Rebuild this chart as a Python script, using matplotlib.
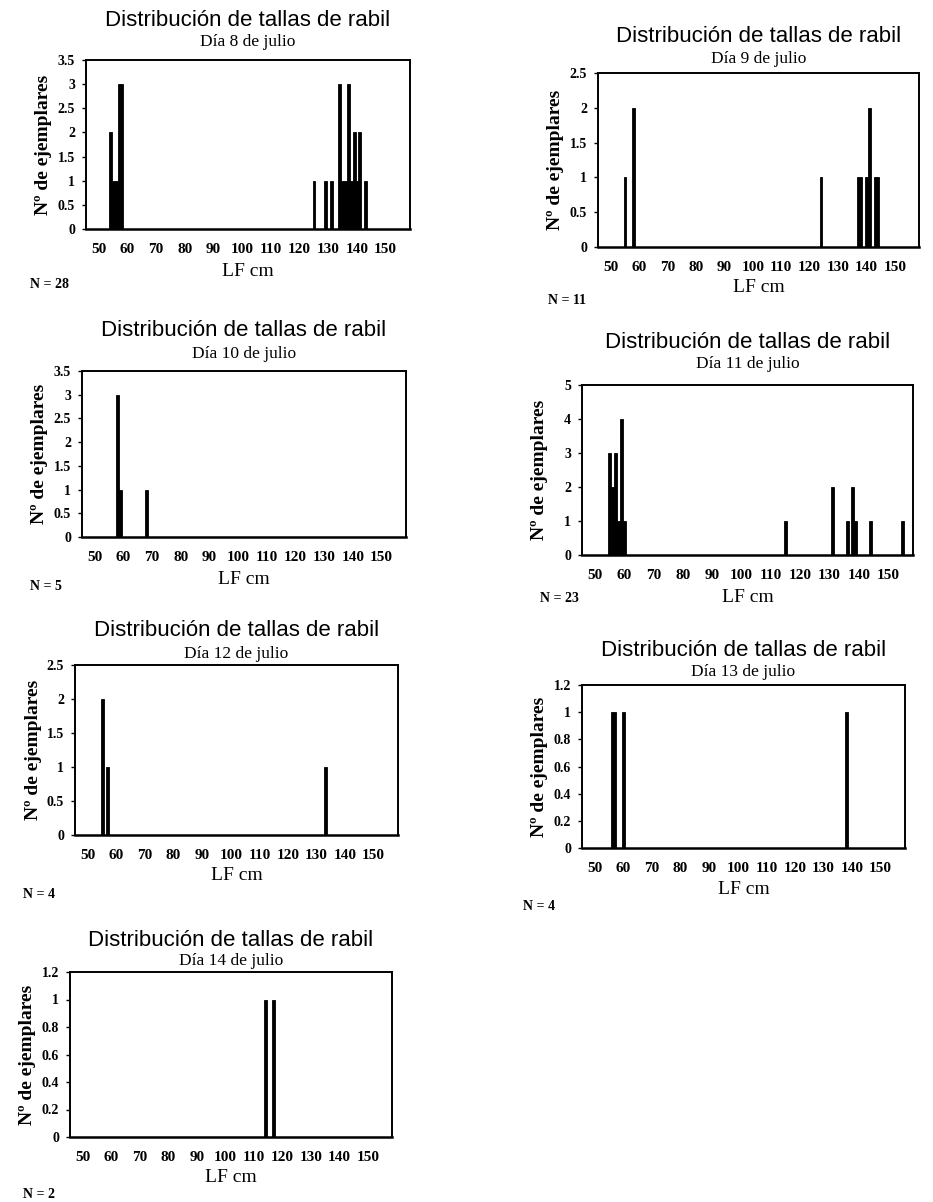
import matplotlib
matplotlib.use("Agg")
import matplotlib.pyplot as plt
import numpy as np

# ---- data (LF cm class, number of specimens) ----
d8_lf = [54, 55, 56, 57, 58, 125, 129, 131, 134, 135, 136, 137, 138, 139, 140, 141, 143]
d8_n = [2, 1, 1, 3, 3, 1, 1, 1, 3, 1, 1, 3, 1, 2, 1, 2, 1]

d9_lf = [55, 58, 124, 137, 138, 140, 141, 143, 144]
d9_n = [1, 2, 1, 1, 1, 1, 2, 1, 1]

d10_lf = [58, 59, 68]
d10_n = [3, 1, 1]

d11_lf = [55, 56, 57, 58, 59, 60, 115, 131, 136, 138, 139, 144, 155]
d11_n = [3, 2, 3, 1, 4, 1, 1, 2, 1, 2, 1, 1, 1]

d12_lf = [55, 57, 133]
d12_n = [2, 1, 1]

d13_lf = [56, 57, 60, 138]
d13_n = [1, 1, 1, 1]

d14_lf = [114, 117]
d14_n = [1, 1]

days = ["Día 8 de julio", "Día 9 de julio", "Día 10 de julio", "Día 11 de julio",
        "Día 12 de julio", "Día 13 de julio", "Día 14 de julio"]
n_labels = ["N = 28", "N = 11", "N = 5", "N = 23", "N = 4", "N = 4", "N = 2"]
x_ticks = [50, 60, 70, 80, 90, 100, 110, 120, 130, 140, 150]
y_max = [3.5, 2.5, 3.5, 5, 2.5, 1.2, 1.2]
y_step = [0.5, 0.5, 0.5, 1, 0.5, 0.2, 0.2]

series = [(d8_lf, d8_n), (d9_lf, d9_n), (d10_lf, d10_n), (d11_lf, d11_n),
          (d12_lf, d12_n), (d13_lf, d13_n), (d14_lf, d14_n)]

W, H = 933, 1202
fig = plt.figure(figsize=(W / 100, H / 100), dpi=100)
fig.patch.set_facecolor("white")

# layout in pixels: (left, top, right, bottom), title y, subtitle y, LF y, N (x, y)
layout = [
    ((86, 60, 410, 229), 20, 42, 271, (30, 285)),
    ((598, 73, 919, 247), 37, 59, 287, (548, 300)),
    ((82, 371, 406, 537), 330, 354, 580, (30, 587)),
    ((582, 385, 913, 555), 342, 364, 597, (540, 599)),
    ((75, 665, 398, 835), 631, 654, 876, (23, 894)),
    ((582, 685, 905, 848), 651, 672, 889, (523, 906)),
    ((70, 972, 392, 1137), 940, 961, 1177, (23, 1195)),
]

serif = "Liberation Serif"
sans = "Liberation Sans"

for i, ((l, t, r, b), ty, sy, ly, (nx, ny)) in enumerate(layout):
    ax = fig.add_axes([l / W, 1 - b / H, (r - l) / W, (b - t) / H])
    lf, n = series[i]
    ax.bar(lf, n, width=1.0, color="black", edgecolor="black", linewidth=0.6)
    ax.set_xlim(45.5, 158.5)
    ax.set_ylim(0, y_max[i])
    yt = np.round(np.arange(0, y_max[i] + 1e-9, y_step[i]), 2)
    ax.set_yticks(yt)
    ax.set_yticklabels([("%g" % v) for v in yt], fontfamily=serif, fontweight="bold", fontsize=10)
    ax.set_xticks(x_ticks)
    ax.set_xticklabels([str(v) for v in x_ticks], fontfamily=serif, fontweight="bold", fontsize=11)
    ax.tick_params(axis="x", length=0, pad=10)
    ax.tick_params(axis="y", length=3, direction="out", pad=5, width=1)
    for s in ax.spines.values():
        s.set_linewidth(1.4)
    ax.spines["bottom"].set_linewidth(1.8)
    cx = (l + r) / 2
    fig.text(cx / W, 1 - ty / H, "Distribución de tallas de rabil", ha="center", va="center",
             fontfamily=sans, fontsize=16)
    fig.text(cx / W, 1 - sy / H, days[i], ha="center", va="center",
             fontfamily=serif, fontsize=12.5)
    fig.text(cx / W, 1 - ly / H, "LF cm", ha="center", va="center",
             fontfamily=serif, fontsize=14)
    fig.text((l - 42) / W, 1 - ((t + b) / 2) / H, "Nº de ejemplares", rotation=90,
             ha="center", va="center", fontfamily=serif, fontweight="bold", fontsize=14)
    fig.text(nx / W, 1 - ny / H, n_labels[i], ha="left", va="center",
             fontfamily=serif, fontweight="bold", fontsize=10)

fig.savefig("out.png", dpi=100, facecolor="white")
